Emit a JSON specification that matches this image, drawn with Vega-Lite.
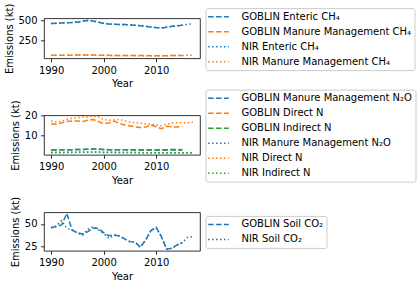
{
  "$schema": "https://vega.github.io/schema/vega-lite/v6.json",
  "background": "white",
  "padding": {"left": 4, "top": 2.3, "right": 0, "bottom": 0},
  "spacing": 57,
  "bounds": "flush",
  "config": {
    "font": "DejaVu Sans",
    "view": {"stroke": "black", "strokeWidth": 0.8},
    "axis": {"domain": false, "grid": false, "labelFont": "DejaVu Sans", "labelFontSize": 10, "labelColor": "black", "tickColor": "black", "tickWidth": 0.8, "tickSize": 3.5, "labelPadding": 3.5, "titleFont": "DejaVu Sans", "titleFontSize": 10, "titleFontWeight": "normal", "titleColor": "black", "titlePadding": 3.5, "labelFlush": false, "labelOverlap": false},
    "legend": {"labelFont": "DejaVu Sans", "labelFontSize": 10, "labelColor": "black", "symbolType": "M-2.07,0H2.07", "symbolSize": 100, "symbolOffset": 4.35, "symbolStrokeWidth": 1.5, "strokeColor": "#cccccc", "fillColor": "white", "cornerRadius": 2, "padding": 2.6, "rowPadding": 4.0, "labelOffset": 17, "labelLimit": 0, "labelExpr": "datum.label + '   '"}
  },
  "datasets": {
    "p1": [
      {"year": 1990, "GOBLIN Enteric CH₄": 462, "GOBLIN Manure Management CH₄": 63, "NIR Enteric CH₄": 460, "NIR Manure Management CH₄": 62},
      {"year": 1991, "GOBLIN Enteric CH₄": 465, "GOBLIN Manure Management CH₄": 63, "NIR Enteric CH₄": 463, "NIR Manure Management CH₄": 62},
      {"year": 1992, "GOBLIN Enteric CH₄": 468, "GOBLIN Manure Management CH₄": 63, "NIR Enteric CH₄": 466, "NIR Manure Management CH₄": 63},
      {"year": 1993, "GOBLIN Enteric CH₄": 470, "GOBLIN Manure Management CH₄": 64, "NIR Enteric CH₄": 469, "NIR Manure Management CH₄": 63},
      {"year": 1994, "GOBLIN Enteric CH₄": 472, "GOBLIN Manure Management CH₄": 64, "NIR Enteric CH₄": 473, "NIR Manure Management CH₄": 64},
      {"year": 1995, "GOBLIN Enteric CH₄": 478, "GOBLIN Manure Management CH₄": 65, "NIR Enteric CH₄": 480, "NIR Manure Management CH₄": 65},
      {"year": 1996, "GOBLIN Enteric CH₄": 488, "GOBLIN Manure Management CH₄": 66, "NIR Enteric CH₄": 490, "NIR Manure Management CH₄": 65},
      {"year": 1997, "GOBLIN Enteric CH₄": 500, "GOBLIN Manure Management CH₄": 66, "NIR Enteric CH₄": 498, "NIR Manure Management CH₄": 65},
      {"year": 1998, "GOBLIN Enteric CH₄": 492, "GOBLIN Manure Management CH₄": 65, "NIR Enteric CH₄": 494, "NIR Manure Management CH₄": 64},
      {"year": 1999, "GOBLIN Enteric CH₄": 478, "GOBLIN Manure Management CH₄": 64, "NIR Enteric CH₄": 480, "NIR Manure Management CH₄": 63},
      {"year": 2000, "GOBLIN Enteric CH₄": 462, "GOBLIN Manure Management CH₄": 63, "NIR Enteric CH₄": 464, "NIR Manure Management CH₄": 62},
      {"year": 2001, "GOBLIN Enteric CH₄": 455, "GOBLIN Manure Management CH₄": 62, "NIR Enteric CH₄": 456, "NIR Manure Management CH₄": 61},
      {"year": 2002, "GOBLIN Enteric CH₄": 450, "GOBLIN Manure Management CH₄": 61, "NIR Enteric CH₄": 451, "NIR Manure Management CH₄": 61},
      {"year": 2003, "GOBLIN Enteric CH₄": 448, "GOBLIN Manure Management CH₄": 61, "NIR Enteric CH₄": 449, "NIR Manure Management CH₄": 60},
      {"year": 2004, "GOBLIN Enteric CH₄": 447, "GOBLIN Manure Management CH₄": 60, "NIR Enteric CH₄": 447, "NIR Manure Management CH₄": 60},
      {"year": 2005, "GOBLIN Enteric CH₄": 442, "GOBLIN Manure Management CH₄": 60, "NIR Enteric CH₄": 443, "NIR Manure Management CH₄": 59},
      {"year": 2006, "GOBLIN Enteric CH₄": 438, "GOBLIN Manure Management CH₄": 60, "NIR Enteric CH₄": 438, "NIR Manure Management CH₄": 59},
      {"year": 2007, "GOBLIN Enteric CH₄": 432, "GOBLIN Manure Management CH₄": 59, "NIR Enteric CH₄": 433, "NIR Manure Management CH₄": 58},
      {"year": 2008, "GOBLIN Enteric CH₄": 425, "GOBLIN Manure Management CH₄": 59, "NIR Enteric CH₄": 426, "NIR Manure Management CH₄": 58},
      {"year": 2009, "GOBLIN Enteric CH₄": 418, "GOBLIN Manure Management CH₄": 58, "NIR Enteric CH₄": 418, "NIR Manure Management CH₄": 58},
      {"year": 2010, "GOBLIN Enteric CH₄": 408, "GOBLIN Manure Management CH₄": 58, "NIR Enteric CH₄": 410, "NIR Manure Management CH₄": 57},
      {"year": 2011, "GOBLIN Enteric CH₄": 405, "GOBLIN Manure Management CH₄": 58, "NIR Enteric CH₄": 406, "NIR Manure Management CH₄": 57},
      {"year": 2012, "GOBLIN Enteric CH₄": 415, "GOBLIN Manure Management CH₄": 58, "NIR Enteric CH₄": 414, "NIR Manure Management CH₄": 58},
      {"year": 2013, "GOBLIN Enteric CH₄": 425, "GOBLIN Manure Management CH₄": 59, "NIR Enteric CH₄": 424, "NIR Manure Management CH₄": 59},
      {"year": 2014, "GOBLIN Enteric CH₄": 432, "GOBLIN Manure Management CH₄": 59, "NIR Enteric CH₄": 431, "NIR Manure Management CH₄": 60},
      {"year": 2015, "GOBLIN Enteric CH₄": 440, "GOBLIN Manure Management CH₄": 60, "NIR Enteric CH₄": 440, "NIR Manure Management CH₄": 61},
      {"year": 2016, "NIR Enteric CH₄": 450, "NIR Manure Management CH₄": 62},
      {"year": 2017, "NIR Enteric CH₄": 460, "NIR Manure Management CH₄": 63}
    ],
    "p2": [
      {"year": 1990, "GOBLIN Manure Management N₂O": 2.8, "GOBLIN Direct N": 15.9, "GOBLIN Indirect N": 2.8, "NIR Manure Management N₂O": 1.5, "NIR Direct N": 17.3, "NIR Indirect N": 1.5},
      {"year": 1991, "GOBLIN Manure Management N₂O": 2.8, "GOBLIN Direct N": 15.6, "GOBLIN Indirect N": 2.8, "NIR Manure Management N₂O": 1.5, "NIR Direct N": 16.8, "NIR Indirect N": 1.5},
      {"year": 1992, "GOBLIN Manure Management N₂O": 2.9, "GOBLIN Direct N": 16.3, "GOBLIN Indirect N": 2.9, "NIR Manure Management N₂O": 1.5, "NIR Direct N": 17.0, "NIR Indirect N": 1.5},
      {"year": 1993, "GOBLIN Manure Management N₂O": 2.9, "GOBLIN Direct N": 17.0, "GOBLIN Indirect N": 2.9, "NIR Manure Management N₂O": 1.5, "NIR Direct N": 18.0, "NIR Indirect N": 1.6},
      {"year": 1994, "GOBLIN Manure Management N₂O": 2.9, "GOBLIN Direct N": 17.3, "GOBLIN Indirect N": 2.9, "NIR Manure Management N₂O": 1.5, "NIR Direct N": 18.6, "NIR Indirect N": 1.6},
      {"year": 1995, "GOBLIN Manure Management N₂O": 3.0, "GOBLIN Direct N": 17.2, "GOBLIN Indirect N": 3.0, "NIR Manure Management N₂O": 1.6, "NIR Direct N": 19.0, "NIR Indirect N": 1.6},
      {"year": 1996, "GOBLIN Manure Management N₂O": 3.0, "GOBLIN Direct N": 17.0, "GOBLIN Indirect N": 3.0, "NIR Manure Management N₂O": 1.6, "NIR Direct N": 19.2, "NIR Indirect N": 1.6},
      {"year": 1997, "GOBLIN Manure Management N₂O": 3.1, "GOBLIN Direct N": 17.6, "GOBLIN Indirect N": 3.1, "NIR Manure Management N₂O": 1.6, "NIR Direct N": 19.3, "NIR Indirect N": 1.7},
      {"year": 1998, "GOBLIN Manure Management N₂O": 3.2, "GOBLIN Direct N": 18.0, "GOBLIN Indirect N": 3.2, "NIR Manure Management N₂O": 1.6, "NIR Direct N": 19.7, "NIR Indirect N": 1.7},
      {"year": 1999, "GOBLIN Manure Management N₂O": 3.1, "GOBLIN Direct N": 17.0, "GOBLIN Indirect N": 3.1, "NIR Manure Management N₂O": 1.6, "NIR Direct N": 19.3, "NIR Indirect N": 1.7},
      {"year": 2000, "GOBLIN Manure Management N₂O": 3.0, "GOBLIN Direct N": 15.9, "GOBLIN Indirect N": 3.0, "NIR Manure Management N₂O": 1.5, "NIR Direct N": 18.0, "NIR Indirect N": 1.6},
      {"year": 2001, "GOBLIN Manure Management N₂O": 2.9, "GOBLIN Direct N": 16.3, "GOBLIN Indirect N": 2.9, "NIR Manure Management N₂O": 1.5, "NIR Direct N": 17.6, "NIR Indirect N": 1.6},
      {"year": 2002, "GOBLIN Manure Management N₂O": 2.9, "GOBLIN Direct N": 17.2, "GOBLIN Indirect N": 2.9, "NIR Manure Management N₂O": 1.5, "NIR Direct N": 17.8, "NIR Indirect N": 1.6},
      {"year": 2003, "GOBLIN Manure Management N₂O": 2.9, "GOBLIN Direct N": 16.0, "GOBLIN Indirect N": 2.9, "NIR Manure Management N₂O": 1.5, "NIR Direct N": 18.0, "NIR Indirect N": 1.5},
      {"year": 2004, "GOBLIN Manure Management N₂O": 2.9, "GOBLIN Direct N": 15.3, "GOBLIN Indirect N": 2.9, "NIR Manure Management N₂O": 1.5, "NIR Direct N": 17.4, "NIR Indirect N": 1.5},
      {"year": 2005, "GOBLIN Manure Management N₂O": 2.9, "GOBLIN Direct N": 14.8, "GOBLIN Indirect N": 2.8, "NIR Manure Management N₂O": 1.5, "NIR Direct N": 16.8, "NIR Indirect N": 1.5},
      {"year": 2006, "GOBLIN Manure Management N₂O": 2.9, "GOBLIN Direct N": 14.3, "GOBLIN Indirect N": 2.8, "NIR Manure Management N₂O": 1.5, "NIR Direct N": 16.4, "NIR Indirect N": 1.5},
      {"year": 2007, "GOBLIN Manure Management N₂O": 2.8, "GOBLIN Direct N": 14.0, "GOBLIN Indirect N": 2.7, "NIR Manure Management N₂O": 1.4, "NIR Direct N": 16.2, "NIR Indirect N": 1.5},
      {"year": 2008, "GOBLIN Manure Management N₂O": 2.8, "GOBLIN Direct N": 14.2, "GOBLIN Indirect N": 2.7, "NIR Manure Management N₂O": 1.4, "NIR Direct N": 15.8, "NIR Indirect N": 1.4},
      {"year": 2009, "GOBLIN Manure Management N₂O": 2.8, "GOBLIN Direct N": 15.3, "GOBLIN Indirect N": 2.7, "NIR Manure Management N₂O": 1.4, "NIR Direct N": 15.6, "NIR Indirect N": 1.4},
      {"year": 2010, "GOBLIN Manure Management N₂O": 2.8, "GOBLIN Direct N": 14.4, "GOBLIN Indirect N": 2.7, "NIR Manure Management N₂O": 1.4, "NIR Direct N": 15.4, "NIR Indirect N": 1.4},
      {"year": 2011, "GOBLIN Manure Management N₂O": 2.8, "GOBLIN Direct N": 13.4, "GOBLIN Indirect N": 2.6, "NIR Manure Management N₂O": 1.4, "NIR Direct N": 14.9, "NIR Indirect N": 1.4},
      {"year": 2012, "GOBLIN Manure Management N₂O": 2.9, "GOBLIN Direct N": 14.6, "GOBLIN Indirect N": 2.7, "NIR Manure Management N₂O": 1.4, "NIR Direct N": 15.6, "NIR Indirect N": 1.4},
      {"year": 2013, "GOBLIN Manure Management N₂O": 3.0, "GOBLIN Direct N": 14.3, "GOBLIN Indirect N": 2.7, "NIR Manure Management N₂O": 1.4, "NIR Direct N": 16.4, "NIR Indirect N": 1.4},
      {"year": 2014, "GOBLIN Manure Management N₂O": 3.0, "GOBLIN Direct N": 14.2, "GOBLIN Indirect N": 2.7, "NIR Manure Management N₂O": 1.4, "NIR Direct N": 16.4, "NIR Indirect N": 1.4},
      {"year": 2015, "GOBLIN Manure Management N₂O": 2.9, "GOBLIN Direct N": 14.5, "GOBLIN Indirect N": 2.7, "NIR Manure Management N₂O": 1.4, "NIR Direct N": 16.4, "NIR Indirect N": 1.4},
      {"year": 2016, "NIR Manure Management N₂O": 1.4, "NIR Direct N": 16.3, "NIR Indirect N": 1.4},
      {"year": 2017, "NIR Manure Management N₂O": 1.4, "NIR Direct N": 16.8, "NIR Indirect N": 1.4}
    ],
    "p3": [
      {"year": 1990, "GOBLIN Soil CO₂": 46.3, "NIR Soil CO₂": 45.2},
      {"year": 1991, "GOBLIN Soil CO₂": 47.0, "NIR Soil CO₂": 47.8},
      {"year": 1992, "GOBLIN Soil CO₂": 48.9, "NIR Soil CO₂": 53.6},
      {"year": 1993, "GOBLIN Soil CO₂": 61.5, "NIR Soil CO₂": 45.0},
      {"year": 1994, "GOBLIN Soil CO₂": 43.4, "NIR Soil CO₂": 43.0},
      {"year": 1995, "GOBLIN Soil CO₂": 40.4, "NIR Soil CO₂": 40.0},
      {"year": 1996, "GOBLIN Soil CO₂": 39.0, "NIR Soil CO₂": 37.5},
      {"year": 1997, "GOBLIN Soil CO₂": 41.5, "NIR Soil CO₂": 44.1},
      {"year": 1998, "GOBLIN Soil CO₂": 45.5, "NIR Soil CO₂": 47.0},
      {"year": 1999, "GOBLIN Soil CO₂": 45.0, "NIR Soil CO₂": 43.5},
      {"year": 2000, "GOBLIN Soil CO₂": 40.4, "NIR Soil CO₂": 39.5},
      {"year": 2001, "GOBLIN Soil CO₂": 37.0, "NIR Soil CO₂": 34.2},
      {"year": 2002, "GOBLIN Soil CO₂": 37.9, "NIR Soil CO₂": 37.5},
      {"year": 2003, "GOBLIN Soil CO₂": 36.8, "NIR Soil CO₂": 36.8},
      {"year": 2004, "GOBLIN Soil CO₂": 33.5, "NIR Soil CO₂": 33.5},
      {"year": 2005, "GOBLIN Soil CO₂": 30.5, "NIR Soil CO₂": 30.5},
      {"year": 2006, "GOBLIN Soil CO₂": 30.0, "NIR Soil CO₂": 30.0},
      {"year": 2007, "GOBLIN Soil CO₂": 24.3, "NIR Soil CO₂": 24.3},
      {"year": 2008, "GOBLIN Soil CO₂": 32.3, "NIR Soil CO₂": 32.3},
      {"year": 2009, "GOBLIN Soil CO₂": 42.6, "NIR Soil CO₂": 42.6},
      {"year": 2010, "GOBLIN Soil CO₂": 46.3, "NIR Soil CO₂": 46.0},
      {"year": 2011, "GOBLIN Soil CO₂": 36.0, "NIR Soil CO₂": 36.0},
      {"year": 2012, "GOBLIN Soil CO₂": 22.1, "NIR Soil CO₂": 22.1},
      {"year": 2013, "GOBLIN Soil CO₂": 23.2, "NIR Soil CO₂": 23.2},
      {"year": 2014, "GOBLIN Soil CO₂": 26.8, "NIR Soil CO₂": 26.8},
      {"year": 2015, "GOBLIN Soil CO₂": 29.4, "NIR Soil CO₂": 29.4},
      {"year": 2016, "NIR Soil CO₂": 35.3},
      {"year": 2017, "NIR Soil CO₂": 36.0}
    ]
  },
  "resolve": {
    "scale": {"color": "independent", "strokeDash": "independent", "x": "independent", "y": "independent"},
    "legend": {"color": "independent", "strokeDash": "independent"}
  },
  "vconcat": [
    {
      "width": 156, "height": 40,
      "data": {"name": "p1"},
      "transform": [
        {"fold": ["GOBLIN Enteric CH₄", "GOBLIN Manure Management CH₄", "NIR Enteric CH₄", "NIR Manure Management CH₄"], "as": ["series", "value"]},
        {"filter": "isValid(datum.value)"}
      ],
      "mark": {"type": "line", "strokeWidth": 1.5, "clip": true},
      "encoding": {
        "x": {"field": "year", "type": "quantitative", "scale": {"domain": [1988.65, 2018.35], "nice": false, "zero": false}, "axis": {"title": "Year", "values": [1990, 2000, 2010], "format": "d"}},
        "y": {"field": "value", "type": "quantitative", "scale": {"domain": [25, 526], "nice": false, "zero": false}, "axis": {"title": "Emissions (kt)", "values": [250, 500]}},
        "color": {"field": "series", "type": "nominal", "scale": {"domain": ["GOBLIN Enteric CH₄", "GOBLIN Manure Management CH₄", "NIR Enteric CH₄", "NIR Manure Management CH₄"], "range": ["#1f77b4", "#ff7f0e", "#1f77b4", "#ff7f0e"]}, "legend": {"title": null, "orient": "none", "direction": "vertical", "legendX": 161.5, "legendY": -10.2}},
        "strokeDash": {"field": "series", "type": "nominal", "scale": {"domain": ["GOBLIN Enteric CH₄", "GOBLIN Manure Management CH₄", "NIR Enteric CH₄", "NIR Manure Management CH₄"], "range": [[5.55, 2.4], [5.55, 2.4], [1.5, 2.475], [1.5, 2.475]]}, "legend": {"title": null, "orient": "none", "direction": "vertical", "legendX": 161.5, "legendY": -10.2}}
      }
    },
    {
      "width": 156, "height": 39.5,
      "data": {"name": "p2"},
      "transform": [
        {"fold": ["GOBLIN Manure Management N₂O", "GOBLIN Direct N", "GOBLIN Indirect N", "NIR Manure Management N₂O", "NIR Direct N", "NIR Indirect N"], "as": ["series", "value"]},
        {"filter": "isValid(datum.value)"}
      ],
      "mark": {"type": "line", "strokeWidth": 1.5, "clip": true},
      "encoding": {
        "x": {"field": "year", "type": "quantitative", "scale": {"domain": [1988.65, 2018.35], "nice": false, "zero": false}, "axis": {"title": "Year", "values": [1990, 2000, 2010], "format": "d"}},
        "y": {"field": "value", "type": "quantitative", "scale": {"domain": [0.35, 20.1], "nice": false, "zero": false}, "axis": {"title": "Emissions (kt)", "values": [10, 20]}},
        "color": {"field": "series", "type": "nominal", "scale": {"domain": ["GOBLIN Manure Management N₂O", "GOBLIN Direct N", "GOBLIN Indirect N", "NIR Manure Management N₂O", "NIR Direct N", "NIR Indirect N"], "range": ["#1f77b4", "#ff7f0e", "#2ca02c", "#1f77b4", "#ff7f0e", "#2ca02c"]}, "legend": {"title": null, "orient": "none", "direction": "vertical", "legendX": 161.5, "legendY": -25.7}},
        "strokeDash": {"field": "series", "type": "nominal", "scale": {"domain": ["GOBLIN Manure Management N₂O", "GOBLIN Direct N", "GOBLIN Indirect N", "NIR Manure Management N₂O", "NIR Direct N", "NIR Indirect N"], "range": [[5.55, 2.4], [5.55, 2.4], [5.55, 2.4], [1.5, 2.475], [1.5, 2.475], [1.5, 2.475]]}, "legend": {"title": null, "orient": "none", "direction": "vertical", "legendX": 161.5, "legendY": -25.7}}
      }
    },
    {
      "width": 156, "height": 38.5,
      "data": {"name": "p3"},
      "transform": [
        {"fold": ["GOBLIN Soil CO₂", "NIR Soil CO₂"], "as": ["series", "value"]},
        {"filter": "isValid(datum.value)"}
      ],
      "mark": {"type": "line", "strokeWidth": 1.5, "clip": true},
      "encoding": {
        "x": {"field": "year", "type": "quantitative", "scale": {"domain": [1988.65, 2018.35], "nice": false, "zero": false}, "axis": {"title": "Year", "values": [1990, 2000, 2010], "format": "d"}},
        "y": {"field": "value", "type": "quantitative", "scale": {"domain": [20.4, 62.8], "nice": false, "zero": false}, "axis": {"title": "Emissions (kt)", "values": [25, 50]}},
        "color": {"field": "series", "type": "nominal", "scale": {"domain": ["GOBLIN Soil CO₂", "NIR Soil CO₂"], "range": ["#1f77b4", "#1f77b4"]}, "legend": {"title": null, "orient": "none", "direction": "vertical", "legendX": 161.5, "legendY": 3.6}},
        "strokeDash": {"field": "series", "type": "nominal", "scale": {"domain": ["GOBLIN Soil CO₂", "NIR Soil CO₂"], "range": [[5.55, 2.4], [1.5, 2.475]]}, "legend": {"title": null, "orient": "none", "direction": "vertical", "legendX": 161.5, "legendY": 3.6}}
      }
    }
  ]
}
